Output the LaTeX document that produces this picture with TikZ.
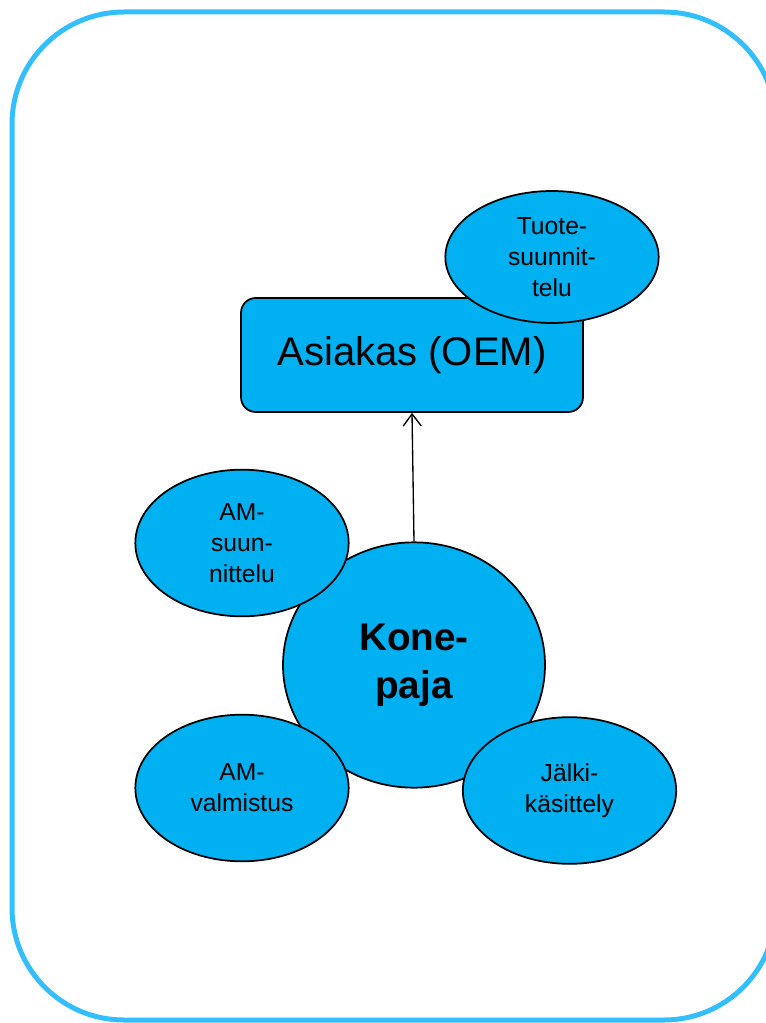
\documentclass[tikz,border=0pt]{standalone}
\usepackage{fontspec}
\setmainfont{Liberation Sans}
\usepackage{xcolor}
\usetikzlibrary{shapes.geometric,arrows.meta}

\definecolor{frameblue}{RGB}{51,191,255}
\definecolor{boxblue}{RGB}{0,176,240}

\begin{document}
\begin{tikzpicture}[x=0.75pt,y=0.75pt,yscale=-1,xscale=1,
  blob/.style={ellipse,draw=black,line width=1.3pt,fill=boxblue,inner sep=0pt,
    minimum width=160pt,minimum height=110pt,align=center,
    font=\fontsize{18.5}{23.3}\selectfont},
  oembox/.style={rectangle,rounded corners=11pt,draw=black,line width=1.3pt,fill=boxblue,
    minimum width=256.5pt,minimum height=85.5pt,font=\fontsize{30}{36}\selectfont}]
\useasboundingbox (0,0) rectangle (766,1023);

%Frame
\draw [color=frameblue,line width=3.75pt,rounded corners=84pt] (12,12) rectangle (776,1020);

% Customer box and its design ellipse
\node [oembox] (asiakas) at (412,355) {Asiakas (OEM)};
\node [blob,minimum height=99pt] (tuote) at (552,257) {Tuote-\\suunnit-\\telu};

% Machine shop
\node [ellipse,draw=black,line width=1.3pt,fill=boxblue,minimum width=196.5pt,minimum height=184pt,
  align=center,font=\fontsize{29}{36}\selectfont\bfseries] (konepaja) at (414,665) {Kone-\\paja};

% Surrounding steps
\node [blob] (amsuun) at (242,543) {AM-\\suun-\\nittelu};
\node [blob] (amvalm) at (242,788) {AM-\\valmistus};
\node [blob] (jalki) at (569.5,790.5) {Jälki-\\käsittely};

%Arrow
\draw [line width=1pt,-{Straight Barb[length=9pt,width=13.5pt]}] (konepaja.north) -- (asiakas.south);
\end{tikzpicture}
\end{document}
